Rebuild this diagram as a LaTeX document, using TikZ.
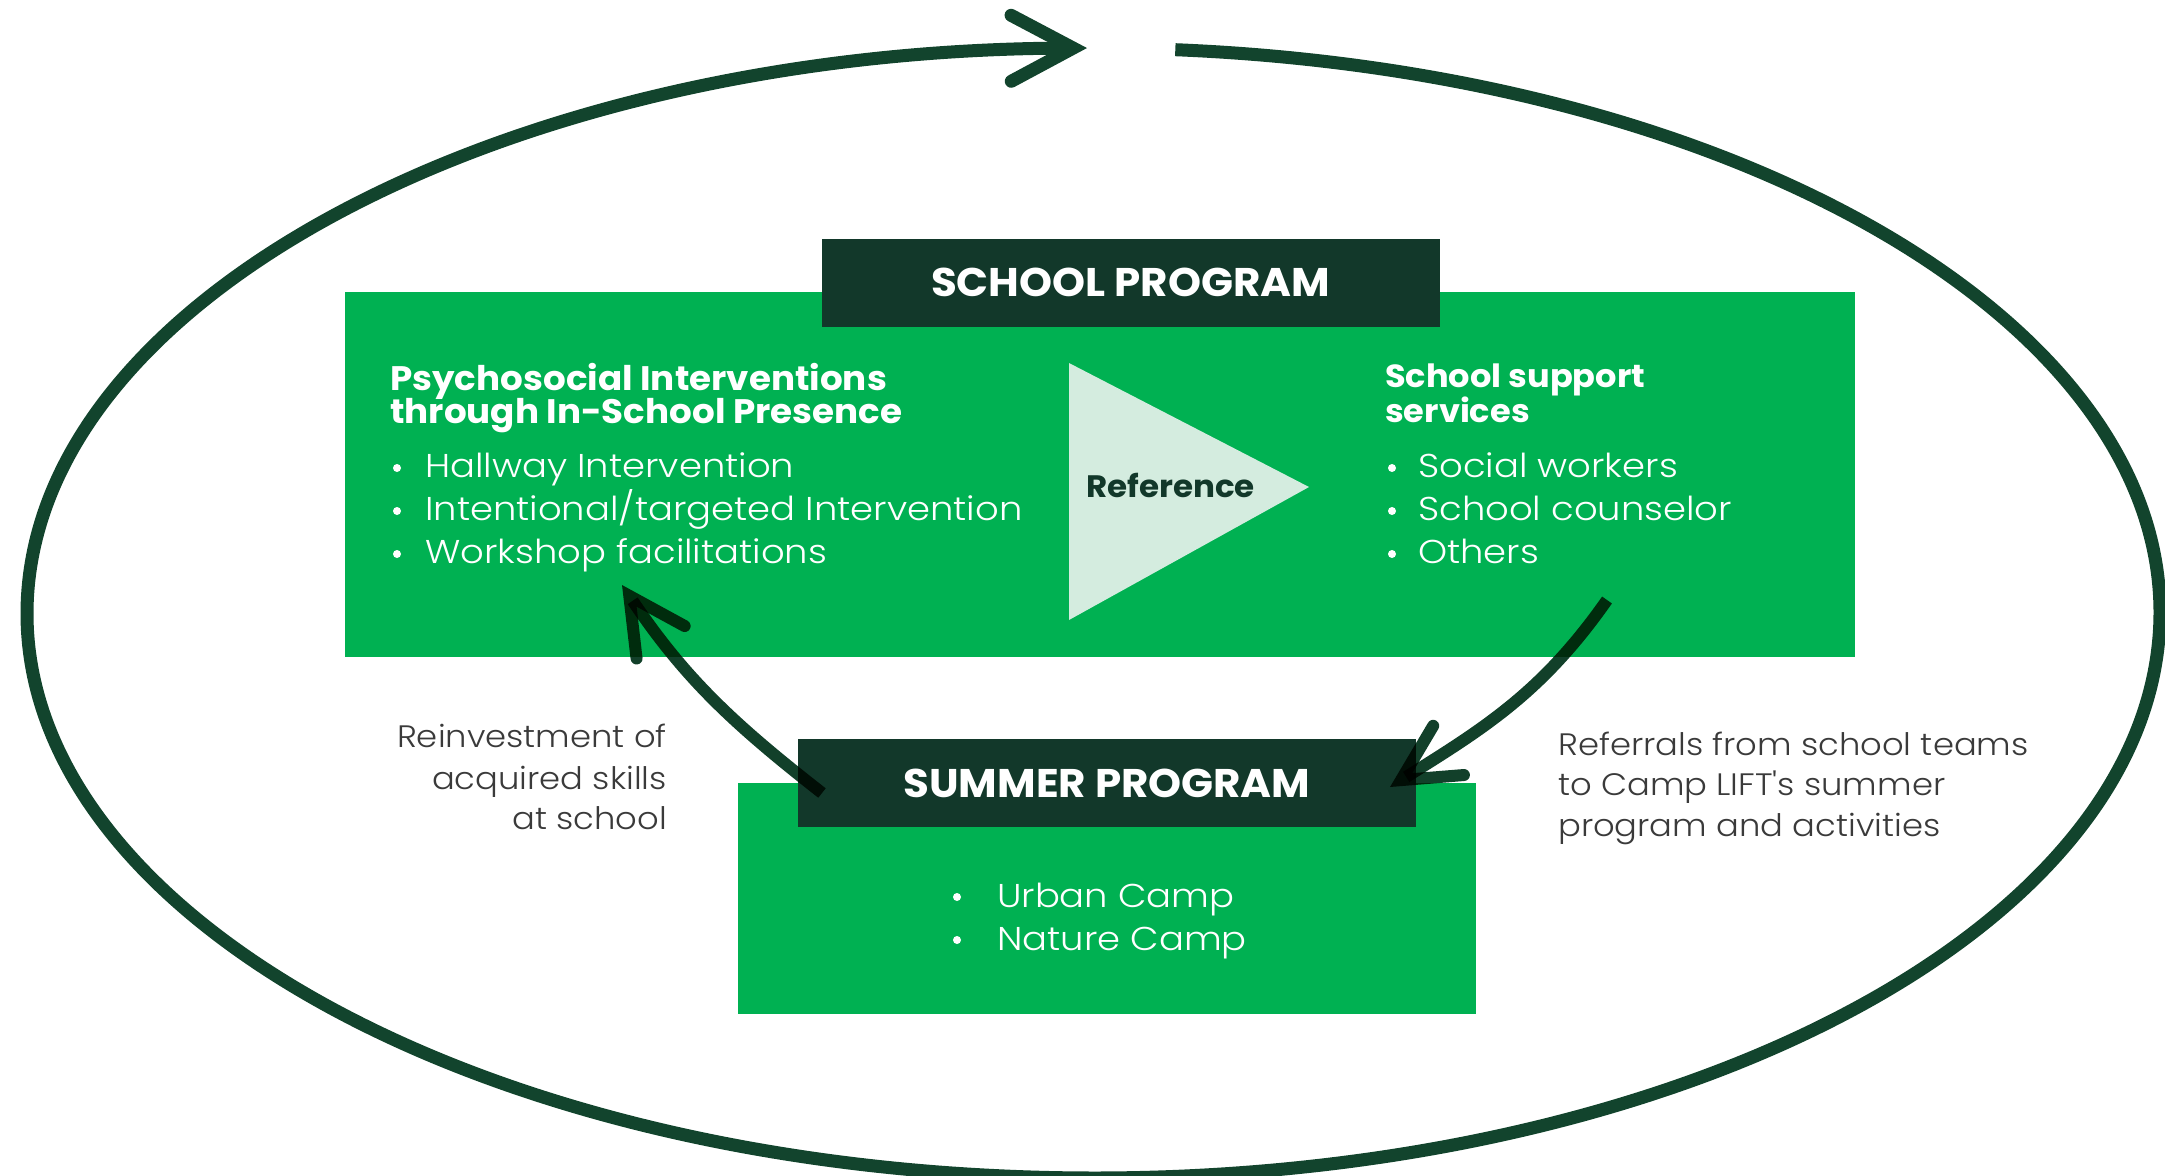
\documentclass[tikz,border=0pt]{standalone}
\usepackage{fontspec}
\setmainfont{Poppins}
\newfontfamily\fhead{Poppins}[UprightFont={* Bold}, FakeStretch=1.05]
\newfontfamily\flight{Poppins}[UprightFont={* Light}, FakeStretch=1.12]
\newfontfamily\flabel{Poppins}[UprightFont={* Light}, FakeStretch=1.09]
\usetikzlibrary{arrows.meta}
\definecolor{gbox}{HTML}{00B152}
\definecolor{ghdr}{HTML}{12382A}
\definecolor{gline}{HTML}{12442D}
\definecolor{garrow}{HTML}{12402A}
\definecolor{tri}{HTML}{D4ECDF}
\definecolor{lbl}{HTML}{3A3A3A}
\begin{document}
\begin{tikzpicture}[x=1pt,y=1pt,
  greenbox/.style={fill=gbox, draw=none, inner sep=0pt},
  hdrbox/.style={fill=ghdr, draw=none, inner sep=0pt, text=white,
    font=\fhead\fontsize{40}{48}\selectfont, minimum width=618pt, minimum height=88pt},
  headtext/.style={text=white, font=\fhead\fontsize{34}{40}\selectfont, inner sep=0pt, anchor=base west},
  headtextsmall/.style={headtext, font=\fhead\fontsize{32}{38}\selectfont},
  itemtext/.style={text=white, font=\flight\fontsize{33}{40}\selectfont, inner sep=0pt, anchor=base west},
  labeltext/.style={text=lbl, font=\flabel\fontsize{31}{38}\selectfont, inner sep=0pt},
  dot/.style={fill=white, draw=none, circle, inner sep=0pt, minimum size=8pt},
  loop/.style={draw=gline, line width=13pt, -{Straight Barb[length=62pt,width=66pt,line cap=round]}},
  bendarrow/.style={draw=garrow, blend mode=multiply, line width=12pt, -{Straight Barb[length=56pt,width=58pt,line cap=round]}}
]
\useasboundingbox (0,0) rectangle (2165,-1175);

% outer loop
\coordinate (loopstart) at ({1093.5+1066.5*cos(85.6)},{-613+565*sin(85.6)});
\draw[loop] (loopstart) arc[start angle=85.6, end angle=-269.65, x radius=1066.5, y radius=565];

% school program
\node[greenbox, minimum width=1510pt, minimum height=365pt] (school) at (1100,-474.5) {};
\node[hdrbox] (schoolhdr) at (1130.5,-282.5) {SCHOOL PROGRAM};

\fill[tri] (1069,-363) -- (1069,-620) -- (1309,-487) -- cycle;
\node[text=ghdr, font=\fhead\fontsize{31}{36}\selectfont, inner sep=0pt, anchor=base west] (ref) at (1086,-497) {Reference};

\node[headtext] (lh1) at (390,-390) {Psychosocial Interventions};
\node[headtext] (lh2) at (390,-423) {through In-School Presence};
\node[dot] at (397,-468) {};
\node[dot] at (397,-511) {};
\node[dot] at (397,-554) {};
\node[itemtext] (li1) at (425,-477) {Hallway Intervention};
\node[itemtext] (li2) at (425,-520) {Intentional/targeted Intervention};
\node[itemtext] (li3) at (425,-563) {Workshop facilitations};

\node[headtextsmall] (rh1) at (1385,-387) {School support};
\node[headtextsmall] (rh2) at (1385,-422) {services};
\node[dot] at (1392,-468) {};
\node[dot] at (1392,-511) {};
\node[dot] at (1392,-554) {};
\node[itemtext] (ri1) at (1418,-477) {Social workers};
\node[itemtext] (ri2) at (1418,-520) {School counselor};
\node[itemtext] (ri3) at (1418,-563) {Others};

% summer program
\node[greenbox, minimum width=738pt, minimum height=231pt] (summer) at (1107,-898.5) {};
\node[hdrbox] (summerhdr) at (1107,-783) {SUMMER PROGRAM};
\node[dot] at (957,-897) {};
\node[dot] at (957,-940) {};
\node[itemtext] (si1) at (997,-907) {Urban Camp};
\node[itemtext] (si2) at (997,-950) {Nature Camp};

% side labels
\node[labeltext, anchor=base east] (ll1) at (667,-747) {Reinvestment of};
\node[labeltext, anchor=base east] (ll2) at (667,-789) {acquired skills};
\node[labeltext, anchor=base east] (ll3) at (667,-829) {at school};
\node[labeltext, anchor=base west] (rl1) at (1558,-755) {Referrals from school teams};
\node[labeltext, anchor=base west] (rl2) at (1558,-795) {to Camp LIFT's summer};
\node[labeltext, anchor=base west] (rl3) at (1558,-836) {program and activities};

% curved arrows
\coordinate (lA) at (822,-793);
\coordinate (lB) at (622,-585);
\coordinate (rA) at (1607,-600);
\coordinate (rB) at (1390,-787);
\draw[bendarrow] (lA) to[out=142, in=-56] (lB);
\draw[bendarrow] (rA) to[out=-125, in=32] (rB);
\end{tikzpicture}
\end{document}
